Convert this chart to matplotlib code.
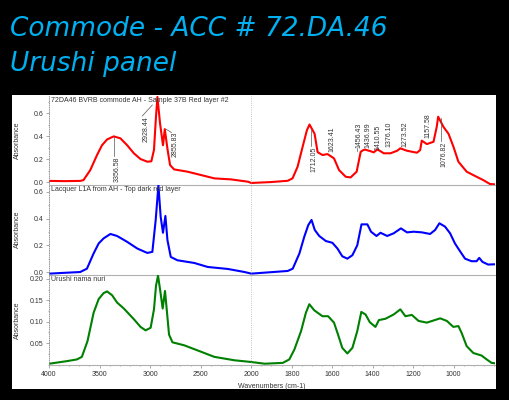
"""FTIR spectra of the urushi panel samples, three stacked panels."""
import matplotlib
matplotlib.use("Agg")
import matplotlib.pyplot as plt
from matplotlib.patches import Rectangle
from matplotlib.ticker import FixedLocator
import numpy as np

# red: 72DA46 BVRB commode AH - Sample 37B Red layer #2
red_wn = [3997, 3850, 3692, 3659, 3592, 3525, 3476, 3426, 3360, 3294, 3227, 3161,
          3095, 3028, 2988, 2962, 2942, 2928, 2902, 2873, 2855, 2829, 2803, 2763,
          2630, 2497, 2365, 2199, 2033, 2000, 1902, 1820, 1796, 1771, 1746, 1725,
          1712, 1687, 1672, 1648, 1623, 1591, 1566, 1533, 1509, 1479, 1459, 1446,
          1437, 1426, 1410, 1395, 1376, 1345, 1312, 1279, 1263, 1230, 1181, 1165,
          1157, 1132, 1099, 1083, 1076, 1050, 1025, 1001, 976, 935, 886, 853, 820, 795]
red_abs = [0.010, 0.008, 0.010, 0.017, 0.104, 0.235, 0.320, 0.370, 0.397, 0.380, 0.320, 0.250,
           0.200, 0.177, 0.180, 0.280, 0.570, 0.740, 0.510, 0.320, 0.460, 0.290, 0.148, 0.110,
           0.090, 0.061, 0.032, 0.023, 0.003, -0.008, 0.000, 0.011, 0.032, 0.133, 0.307, 0.450,
           0.500, 0.420, 0.260, 0.235, 0.243, 0.206, 0.104, 0.046, 0.040, 0.090, 0.263, 0.278,
           0.282, 0.276, 0.268, 0.258, 0.284, 0.250, 0.250, 0.272, 0.293, 0.272, 0.255, 0.278,
           0.360, 0.330, 0.350, 0.480, 0.568, 0.480, 0.420, 0.310, 0.177, 0.090, 0.046, 0.017, -0.017, -0.020]

# blue: Lacquer L1A from AH - Top dark red layer
blue_wn = [3997, 3850, 3692, 3625, 3559, 3509, 3460, 3393, 3327, 3227, 3127, 3028,
           2978, 2945, 2918, 2896, 2873, 2849, 2829, 2796, 2730, 2564, 2431, 2232,
           2066, 2000, 1820, 1795, 1762, 1738, 1718, 1702, 1686, 1664, 1631, 1599,
           1574, 1550, 1525, 1500, 1476, 1455, 1426, 1408, 1381, 1361, 1328, 1296,
           1260, 1230, 1197, 1156, 1116, 1091, 1070, 1042, 1017, 993, 968, 943,
           911, 886, 873, 857, 829, 795]
blue_abs = [-0.012, -0.006, 0.000, 0.025, 0.139, 0.214, 0.252, 0.285, 0.270, 0.226, 0.176, 0.143,
            0.151, 0.390, 0.650, 0.415, 0.294, 0.420, 0.240, 0.113, 0.088, 0.068, 0.038, 0.023,
            0.000, -0.012, 0.008, 0.025, 0.139, 0.264, 0.352, 0.390, 0.315, 0.270, 0.232, 0.219,
            0.176, 0.118, 0.100, 0.126, 0.200, 0.357, 0.357, 0.302, 0.270, 0.294, 0.270, 0.290,
            0.327, 0.297, 0.302, 0.297, 0.285, 0.315, 0.365, 0.340, 0.290, 0.214, 0.156, 0.100,
            0.081, 0.081, 0.106, 0.076, 0.056, 0.058]

# green: Urushi nama nuri
green_wn = [3997, 3824, 3724, 3675, 3619, 3559, 3509, 3460, 3426, 3376, 3327, 3260,
            3161, 3095, 3045, 2995, 2962, 2942, 2922, 2902, 2876, 2853, 2836, 2813,
            2779, 2663, 2497, 2365, 2166, 2000, 1934, 1844, 1812, 1787, 1754, 1730,
            1713, 1689, 1648, 1620, 1591, 1571, 1550, 1525, 1500, 1476, 1456, 1435,
            1414, 1386, 1369, 1337, 1296, 1263, 1238, 1206, 1173, 1132, 1066, 1033,
            1001, 976, 960, 935, 902, 861, 836, 812, 795]
green_abs = [0.002, 0.008, 0.012, 0.018, 0.055, 0.121, 0.153, 0.167, 0.171, 0.162, 0.145, 0.131,
             0.106, 0.088, 0.080, 0.086, 0.129, 0.184, 0.208, 0.176, 0.131, 0.172, 0.129, 0.070,
             0.052, 0.045, 0.030, 0.018, 0.010, 0.006, 0.002, 0.004, 0.012, 0.035, 0.078, 0.121,
             0.141, 0.127, 0.113, 0.113, 0.098, 0.070, 0.039, 0.026, 0.039, 0.078, 0.123, 0.117,
             0.099, 0.088, 0.104, 0.107, 0.117, 0.129, 0.113, 0.116, 0.102, 0.098, 0.108, 0.102,
             0.088, 0.090, 0.074, 0.043, 0.027, 0.021, 0.012, 0.004, 0.003]

panel_names = ["72DA46 BVRB commode AH - Sample 37B Red layer #2",
               "Lacquer L1A from AH - Top dark red layer",
               "Urushi nama nuri"]

# peak labels on the red spectrum
peak_labels = ["3356.58", "2928.44", "2855.83", "1712.05", "1623.41", "1456.43",
               "1436.99", "1410.55", "1376.10", "1273.52", "1157.58", "1076.82"]
# text position (wn, absorbance), vertical alignment, leader line (wn0, a0, wn1, a1)
label_layout = [
    (3326, 0.22, "top", (3360, 0.39, 3360, 0.23)),
    (3038, 0.35, "bottom", (3078, 0.574, 2978, 0.67)),
    (2756, 0.437, "top", (2839, 0.458, 2789, 0.43)),
    (1689, 0.307, "top", (1705, 0.45, 1705, 0.31)),
    (1599, 0.263, "bottom", None),
    (1468, 0.293, "bottom", (1476, 0.27, 1476, 0.30)),
    (1422, 0.293, "bottom", None),
    (1372, 0.278, "bottom", None),
    (1320, 0.302, "bottom", None),
    (1238, 0.307, "bottom", None),
    (1124, 0.38, "bottom", None),
    (1045, 0.35, "top", (1063, 0.56, 1063, 0.36)),
]

major_ticks = [4000, 3500, 3000, 2500, 2000, 1800, 1600, 1400, 1200, 1000]


def fwd(x):
    x = np.asarray(x, dtype=float)
    return np.where(x >= 2000, x, 2 * x - 2000)


def inv(u):
    u = np.asarray(u, dtype=float)
    return np.where(u >= 2000, u, (u + 2000) / 2)


W, H = 510, 400
fig = plt.figure(figsize=(W / 100, H / 100), dpi=100, facecolor="black")
fig.patches.append(Rectangle((12 / W, 11 / H), 484 / W, 294 / H, transform=fig.transFigure,
                             facecolor="white", edgecolor="none", zorder=-5))

title_kw = dict(color="#00b0f0", fontsize=19, style="italic", family="DejaVu Sans", va="baseline")
fig.text(10 / W, 1 - 36.5 / H, "Commode - ACC # 72.DA.46", **title_kw)
fig.text(10 / W, 1 - 71 / H, "Urushi panel", **title_kw)

small = dict(family="Liberation Sans", fontsize=5, color="#333333")
left, width = 49 / W, 446 / W
rects = [(96, 184.7), (184.7, 274.7), (274.7, 365)]
series = [(red_wn, red_abs, "red"), (blue_wn, blue_abs, "blue"), (green_wn, green_abs, "green")]
ylims = [(-0.023, 0.748), (-0.02, 0.654), (-0.001, 0.21)]
yticks = [[0.0, 0.2, 0.4, 0.6], [0.0, 0.2, 0.4, 0.6], [0.05, 0.10, 0.15, 0.20]]
yfmt = ["%.1f", "%.1f", "%.2f"]

axes = []
for i, ((top, bot), (wn, ab, col)) in enumerate(zip(rects, series)):
    ax = fig.add_axes([left, 1 - bot / H, width, (bot - top) / H])
    ax.set_facecolor("none")
    ax.set_xscale("function", functions=(fwd, inv))
    ax.plot(wn, ab, color=col, lw=1.5, solid_joinstyle="round")
    ax.set_xlim(4000, 795)
    ax.set_ylim(*ylims[i])
    ax.axvline(2000, color="#b0b0b0", ls=":", lw=0.6)
    ax.set_yticks(yticks[i])
    ax.set_yticklabels([yfmt[i] % v for v in yticks[i]], **small)
    step = yticks[i][1] - yticks[i][0]
    ax.yaxis.set_minor_locator(FixedLocator(np.arange(0.0, 0.75, step / 2)))
    ax.tick_params(axis="y", which="both", length=2, width=0.5, color="#888888", pad=2)
    ax.tick_params(axis="y", which="minor", length=1)
    for s in ("top", "right"):
        ax.spines[s].set_visible(False)
    ax.spines["left"].set_linestyle(":")
    ax.spines["left"].set_color("#888888")
    ax.spines["left"].set_linewidth(0.6)
    ax.spines["bottom"].set_color("#b0b0b0")
    ax.spines["bottom"].set_linewidth(0.8)
    ax.set_ylabel("Absorbance", **small)
    ax.yaxis.set_label_coords(-28 / 446, 0.5)
    ax.text(0.004, 0.985, panel_names[i], transform=ax.transAxes, va="top", ha="left", **small)
    axes.append(ax)

for ax in axes[:2]:
    ax.set_xticks([])
    ax.set_xticks([], minor=True)

bx = axes[2]
bx.xaxis.set_major_locator(FixedLocator(major_ticks))
bx.xaxis.set_minor_locator(FixedLocator(list(range(3900, 2000, -100)) + list(range(1950, 795, -50))))
bx.set_xticklabels([str(t) for t in major_ticks], **small)
bx.tick_params(axis="x", which="both", length=2, width=0.5, color="#888888", pad=2)
bx.tick_params(axis="x", which="minor", length=1)
bx.set_xlabel("Wavenumbers (cm-1)", labelpad=4, **small)

rx = axes[0]
for text, (tx, ty, va, leader) in zip(peak_labels, label_layout):
    rx.text(tx, ty, text, rotation=90, ha="center", va=va, **small)
    if leader is not None:
        rx.plot([leader[0], leader[2]], [leader[1], leader[3]], color="#555555", lw=0.5)

fig.savefig("out.png", dpi=100, facecolor="black")
